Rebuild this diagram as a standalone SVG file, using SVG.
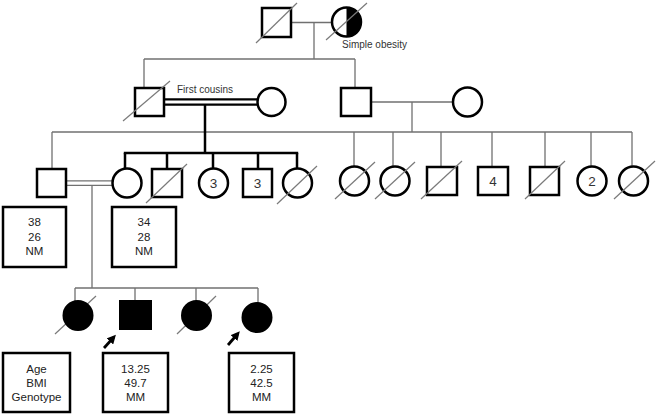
<svg xmlns="http://www.w3.org/2000/svg" width="657" height="415" viewBox="0 0 657 415">
<defs>
<style>
.sh{fill:#fff;stroke:#000;stroke-width:2.5}
.fl{fill:#000;stroke:#000;stroke-width:2}
.thin{stroke:#707070;stroke-width:1.3;fill:none}
.thick{stroke:#000;stroke-width:2.5;fill:none}
.dx{stroke:#7a7a7a;stroke-width:1.2}
.box{fill:#fff;stroke:#000;stroke-width:2.5}
.t{font-family:"Liberation Sans",Arial,sans-serif;font-size:11.5px;fill:#222;text-anchor:middle}
.n{font-family:"Liberation Sans",Arial,sans-serif;font-size:13.5px;fill:#333;text-anchor:middle}
.lb{font-family:"Liberation Sans",Arial,sans-serif;font-size:10px;fill:#333}
.arr{stroke:#000;stroke-width:2.8;fill:none}
</style>
<marker id="ah" viewBox="0 0 10 10" refX="6" refY="5" markerWidth="3.2" markerHeight="3.2" orient="auto" markerUnits="strokeWidth">
<path d="M0,0 L10,5 L0,10 z" fill="#000"/>
</marker>
</defs>
<rect width="657" height="415" fill="#fff"/>

<g id="connectors">
<line class="thin" x1="291" y1="22.5" x2="332" y2="22.5"/>
<line class="thin" x1="314" y1="22.5" x2="314" y2="59"/>
<line class="thin" x1="144" y1="59" x2="355" y2="59"/>
<line class="thin" x1="144" y1="59" x2="144" y2="88"/>
<line class="thin" x1="355" y1="59" x2="355" y2="88"/>
<line stroke="#000" stroke-width="2.2" x1="164" y1="99.3" x2="257.5" y2="99.3"/>
<line stroke="#000" stroke-width="2.2" x1="164" y1="104.7" x2="257.5" y2="104.7"/>
<line class="thin" x1="370" y1="102" x2="453" y2="102"/>
<line class="thin" x1="412" y1="102" x2="412" y2="132"/>
<line class="thin" x1="52" y1="132" x2="632" y2="132"/>
<line class="thin" x1="52" y1="132" x2="52" y2="169"/>
<line class="thin" x1="354" y1="132" x2="354" y2="166"/>
<line class="thin" x1="393" y1="132" x2="393" y2="166"/>
<line class="thin" x1="441" y1="132" x2="441" y2="167"/>
<line class="thin" x1="492" y1="132" x2="492" y2="167"/>
<line class="thin" x1="545" y1="132" x2="545" y2="167"/>
<line class="thin" x1="591" y1="132" x2="591" y2="166"/>
<line class="thin" x1="632" y1="132" x2="632" y2="166"/>
<line class="thick" x1="205" y1="104.7" x2="205" y2="153"/>
<line class="thick" x1="123.8" y1="153" x2="298.2" y2="153"/>
<line class="thick" x1="125" y1="153" x2="125" y2="169"/>
<line class="thick" x1="167" y1="153" x2="167" y2="169"/>
<line class="thick" x1="213" y1="153" x2="213" y2="169"/>
<line class="thick" x1="258" y1="153" x2="258" y2="169"/>
<line class="thick" x1="297" y1="153" x2="297" y2="169"/>
<line class="thin" x1="66" y1="180.8" x2="112.5" y2="180.8"/>
<line class="thin" x1="66" y1="185.4" x2="112.5" y2="185.4"/>
<line class="thin" x1="92" y1="185.4" x2="92" y2="288"/>
<line class="thin" x1="75" y1="288" x2="258" y2="288"/>
<line class="thin" x1="75" y1="288" x2="75" y2="301"/>
<line class="thin" x1="135" y1="288" x2="135" y2="301"/>
<line class="thin" x1="196" y1="288" x2="196" y2="301"/>
<line class="thin" x1="258" y1="288" x2="258" y2="303"/>
<line class="arr" x1="104" y1="348" x2="113.5" y2="337.5" marker-end="url(#ah)"/>
<line class="arr" x1="228" y1="345" x2="237.5" y2="334" marker-end="url(#ah)"/>
</g>

<g id="gen1-father">
<rect class="sh" x="262" y="8" width="29" height="29"/>
<line class="dx" x1="256" y1="43" x2="297" y2="3"/>
</g>
<g id="gen1-mother">
<circle cx="346.5" cy="22" r="14.5" fill="#fff"/>
<path d="M346.5,7.5 A14.5,14.5 0 0 1 346.5,36.5 Z" fill="#000"/>
<circle cx="346.5" cy="22" r="14.5" fill="none" stroke="#000" stroke-width="2.5"/>
<line class="dx" x1="326" y1="40" x2="367" y2="3"/>
<text class="lb" x="342" y="48">Simple obesity</text>
</g>

<g id="gen2-male-left">
<rect class="sh" x="135" y="88" width="29" height="28"/>
<line class="dx" x1="123" y1="121" x2="170" y2="81"/>
</g>
<g id="first-cousins-label"><text class="lb" x="177" y="93">First cousins</text></g>
<g id="gen2-female-left"><circle class="sh" cx="271.5" cy="102" r="14"/></g>
<g id="gen2-male-right"><rect class="sh" x="341" y="88" width="30" height="28"/></g>
<g id="gen2-female-right"><circle class="sh" cx="467.5" cy="102" r="14.5"/></g>

<g id="gen3-husband"><rect class="sh" x="37" y="169" width="29" height="28"/></g>
<g id="gen3-wife"><circle class="sh" cx="127" cy="183" r="14.5"/></g>
<g id="gen3-s2">
<rect class="sh" x="152" y="169" width="30" height="28"/>
<line class="dx" x1="146" y1="203" x2="187" y2="164"/>
</g>
<g id="gen3-s3"><circle class="sh" cx="213.5" cy="183" r="14.5"/><text class="n" x="213.5" y="188">3</text></g>
<g id="gen3-s4"><rect class="sh" x="243" y="169" width="29" height="28"/><text class="n" x="257.5" y="188">3</text></g>
<g id="gen3-s5">
<circle class="sh" cx="297.5" cy="183" r="14.5"/>
<line class="dx" x1="277" y1="204" x2="317" y2="166"/>
</g>

<g id="gen3-r1"><circle class="sh" cx="354.5" cy="181" r="14.5"/><line class="dx" x1="335" y1="199" x2="375" y2="162"/></g>
<g id="gen3-r2"><circle class="sh" cx="395" cy="181" r="14.5"/><line class="dx" x1="375" y1="199" x2="415" y2="162"/></g>
<g id="gen3-r3"><rect class="sh" x="427" y="167" width="30" height="28"/><line class="dx" x1="421" y1="199" x2="462" y2="161"/></g>
<g id="gen3-r4"><rect class="sh" x="478" y="167" width="30" height="28"/><text class="n" x="493" y="186">4</text></g>
<g id="gen3-r5"><rect class="sh" x="530" y="167" width="29" height="28"/><line class="dx" x1="525" y1="199" x2="565" y2="161"/></g>
<g id="gen3-r6"><circle class="sh" cx="592" cy="181" r="14.5"/><text class="n" x="592" y="186">2</text></g>
<g id="gen3-r7"><circle class="sh" cx="633.5" cy="181" r="14.5"/><line class="dx" x1="614" y1="199" x2="655" y2="161"/></g>

<g id="box-husband">
<rect class="box" x="3" y="207" width="63" height="60"/>
<text class="t" x="34.5" y="226">38</text><text class="t" x="34.5" y="241">26</text><text class="t" x="34.5" y="255">NM</text>
</g>
<g id="box-wife">
<rect class="box" x="112" y="207" width="64" height="60"/>
<text class="t" x="144" y="226">34</text><text class="t" x="144" y="241">28</text><text class="t" x="144" y="255">NM</text>
</g>

<g id="gen4-c1"><line class="dx" x1="55" y1="334" x2="96" y2="296"/><circle class="fl" cx="78" cy="315.5" r="14.5"/></g>
<g id="gen4-c2"><rect class="fl" x="120" y="301" width="31" height="28"/></g>
<g id="gen4-c3"><line class="dx" x1="177" y1="334" x2="216" y2="296"/><circle class="fl" cx="196.5" cy="315.5" r="14.5"/></g>
<g id="gen4-c4"><circle class="fl" cx="257" cy="317.5" r="14.5"/></g>

<g id="box-legend">
<rect class="box" x="3" y="353" width="67" height="59"/>
<text class="t" x="36.5" y="373">Age</text><text class="t" x="36.5" y="387">BMI</text><text class="t" x="36.5" y="401">Genotype</text>
</g>
<g id="box-proband1">
<rect class="box" x="103" y="353" width="65" height="59"/>
<text class="t" x="135.5" y="373">13.25</text><text class="t" x="135.5" y="387">49.7</text><text class="t" x="135.5" y="401">MM</text>
</g>
<g id="box-proband2">
<rect class="box" x="229" y="353" width="65" height="59"/>
<text class="t" x="261.5" y="373">2.25</text><text class="t" x="261.5" y="387">42.5</text><text class="t" x="261.5" y="401">MM</text>
</g>
</svg>
